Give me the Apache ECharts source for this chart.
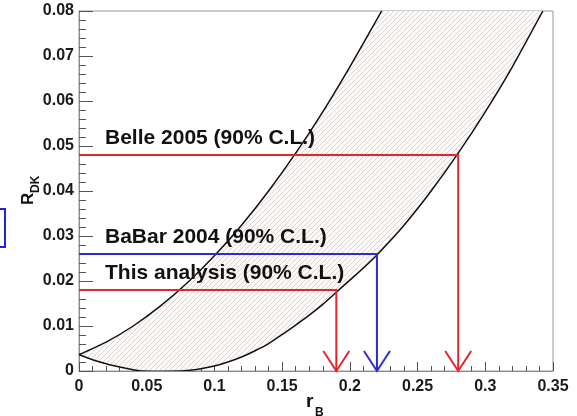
<!DOCTYPE html>
<html>
<head>
<meta charset="utf-8">
<script src="https://cdn.jsdelivr.net/npm/echarts@6/dist/echarts.min.js"></script>
<style>
  html, body { margin: 0; padding: 0; background: #ffffff; }
  #chart { width: 577px; height: 416px; }
</style>
</head>
<body>
<div id="chart"></div>
<script>
// Allowed band in the (r_B, R_DK) plane: upper and lower edges
const upperEdge = [
  [0.00, 0.0036], [0.02, 0.0064], [0.04, 0.0100], [0.06, 0.0144], [0.08, 0.0196],
  [0.10, 0.0256], [0.12, 0.0324], [0.14, 0.0400], [0.16, 0.0484], [0.18, 0.0576],
  [0.20, 0.0676], [0.2235, 0.0800]
];
const lowerEdge = [
  [0.00, 0.0036], [0.01, 0.0025], [0.02, 0.0016], [0.03, 0.0009], [0.04, 0.0003],
  [0.047, 0.0000], [0.075, 0.0000], [0.08, 0.0001], [0.09, 0.0005], [0.10, 0.0011],
  [0.11, 0.0020], [0.12, 0.0031], [0.13, 0.0045], [0.14, 0.0061], [0.15, 0.0081],
  [0.16, 0.0102], [0.17, 0.0124], [0.18, 0.0148], [0.19, 0.0175], [0.20, 0.0202],
  [0.21, 0.0229], [0.22, 0.0258], [0.24, 0.0324], [0.26, 0.0400], [0.28, 0.0484],
  [0.30, 0.0576], [0.32, 0.0676], [0.3425, 0.0800]
];

// Upper limits on R_DK and the corresponding r_B limits
const experiments = ['Belle 2005 (90% C.L.)', 'BaBar 2004 (90% C.L.)', 'This analysis (90% C.L.)'];
const rDKLimits = [0.048, 0.026, 0.018];
const rBLimits = [0.28, 0.22, 0.19];
const limitColors = ['#e3262b', '#2b2bd8', '#e3262b'];

// Tick labels
const xTickLabels = ['0', '0.05', '0.1', '0.15', '0.2', '0.25', '0.3', '0.35'];
const yTickLabels = ['0', '0.01', '0.02', '0.03', '0.04', '0.05', '0.06', '0.07', '0.08'];

const FONT = '"Liberation Sans", Arial, Helvetica, sans-serif';

// Diagonal hatch tile used to fill the band
function makeHatch() {
  const s = 5;
  const c = document.createElement('canvas');
  c.width = s; c.height = s;
  const g = c.getContext('2d');
  g.fillStyle = '#fdfafa';
  g.fillRect(0, 0, s, s);
  g.strokeStyle = '#dacdca';
  g.lineWidth = 0.9;
  g.beginPath();
  g.moveTo(-1, s + 1); g.lineTo(s + 1, -1);
  g.moveTo(-1, 1); g.lineTo(1, -1);
  g.moveTo(s - 1, s + 1); g.lineTo(s + 1, s - 1);
  g.stroke();
  return c;
}
const hatch = makeHatch();

const chart = echarts.init(document.getElementById('chart'), null, { renderer: 'canvas' });

const axisCommon = {
  type: 'value',
  axisLine: { show: true, onZero: false, lineStyle: { color: '#8c8c8c', width: 1 } },
  splitLine: { show: false },
  axisLabel: { color: '#1a1a1a', fontFamily: FONT, fontWeight: 'bold', fontSize: 16 }
};

chart.setOption({
  animation: false,
  backgroundColor: '#ffffff',
  grid: {
    left: 79, right: 24, top: 11, bottom: 45,
    show: true, borderColor: '#9a9a9a', borderWidth: 1,
    outerBoundsMode: 'none'
  },
  xAxis: Object.assign({}, axisCommon, {
    min: 0, max: 0.35, interval: 0.05,
    axisTick: { show: true, inside: true, length: 9, lineStyle: { color: '#555' } },
    minorTick: { show: true, splitNumber: 5, length: 5, lineStyle: { color: '#555' } },
    axisLabel: Object.assign({}, axisCommon.axisLabel, {
      margin: 8,
      formatter: v => xTickLabels[Math.round(v / 0.05)]
    })
  }),
  yAxis: Object.assign({}, axisCommon, {
    min: 0, max: 0.08, interval: 0.01,
    axisTick: { show: true, inside: true, length: 14, lineStyle: { color: '#555' } },
    minorTick: { show: true, splitNumber: 5, length: 7, lineStyle: { color: '#555' } },
    axisLabel: Object.assign({}, axisCommon.axisLabel, {
      margin: 5,
      formatter: v => yTickLabels[Math.round(v / 0.01)]
    })
  }),
  series: [
    {
      // hatched band bounded by the two edges
      type: 'custom',
      clip: true,
      z: 2,
      data: [[0, 0]],
      renderItem: function (params, api) {
        const up = upperEdge.map(p => api.coord(p));
        const lo = lowerEdge.map(p => api.coord(p));
        const poly = up.concat(lo.slice().reverse());
        return {
          type: 'group',
          children: [
            { type: 'polygon', shape: { points: poly }, style: { fill: { image: hatch, repeat: 'repeat' }, stroke: null } },
            { type: 'polyline', shape: { points: up, smooth: 0.2 }, style: { fill: null, stroke: '#111', lineWidth: 1.5 } },
            { type: 'polyline', shape: { points: lo, smooth: 0.2 }, style: { fill: null, stroke: '#111', lineWidth: 1.5 } }
          ]
        };
      }
    },
    {
      // limit lines with downward arrows and their captions
      type: 'custom',
      clip: false,
      z: 5,
      data: rBLimits.map((x, i) => [x, rDKLimits[i], i]),
      renderItem: function (params, api) {
        const x = api.value(0), y = api.value(1), i = api.value(2);
        const color = limitColors[i];
        const p0 = api.coord([0, y]);
        const p1 = api.coord([x, y]);
        const p2 = api.coord([x, 0]);
        return {
          type: 'group',
          children: [
            { type: 'polyline', shape: { points: [p0, p1, p2] }, style: { fill: null, stroke: color, lineWidth: 2 } },
            { type: 'polyline', shape: { points: [[p2[0] - 13, p2[1] - 20], p2, [p2[0] + 13, p2[1] - 20]] },
              style: { fill: null, stroke: color, lineWidth: 2 } },
            { type: 'text', style: {
                text: experiments[i], x: p0[0] + 26, y: p0[1] - 17,
                fill: '#111', font: 'bold 21px ' + FONT, align: 'left', verticalAlign: 'middle'
              } }
          ]
        };
      }
    }
  ],
  graphic: [
    {
      // y-axis title R_DK
      type: 'group', x: 28, y: 190, rotation: Math.PI / 2,
      children: [
        { type: 'text', x: -15, y: 0, style: { text: 'R', fill: '#111', font: 'bold 17px ' + FONT, align: 'left', verticalAlign: 'middle' } },
        { type: 'text', x: -3, y: 8, style: { text: 'DK', fill: '#111', font: 'bold 12px ' + FONT, align: 'left', verticalAlign: 'middle' } }
      ]
    },
    {
      // x-axis title r_B
      type: 'group', x: 0, y: 0,
      children: [
        { type: 'text', x: 306, y: 402, style: { text: 'r', fill: '#111', font: 'bold 19px ' + FONT, align: 'left', verticalAlign: 'middle' } },
        { type: 'text', x: 315, y: 413, style: { text: 'B', fill: '#111', font: 'bold 12px ' + FONT, align: 'left', verticalAlign: 'middle' } }
      ]
    },
    {
      type: 'rect', shape: { x: -4, y: 209, width: 9, height: 38 },
      style: { fill: null, stroke: '#2020e0', lineWidth: 2 }
    }
  ]
});
</script>
</body>
</html>
